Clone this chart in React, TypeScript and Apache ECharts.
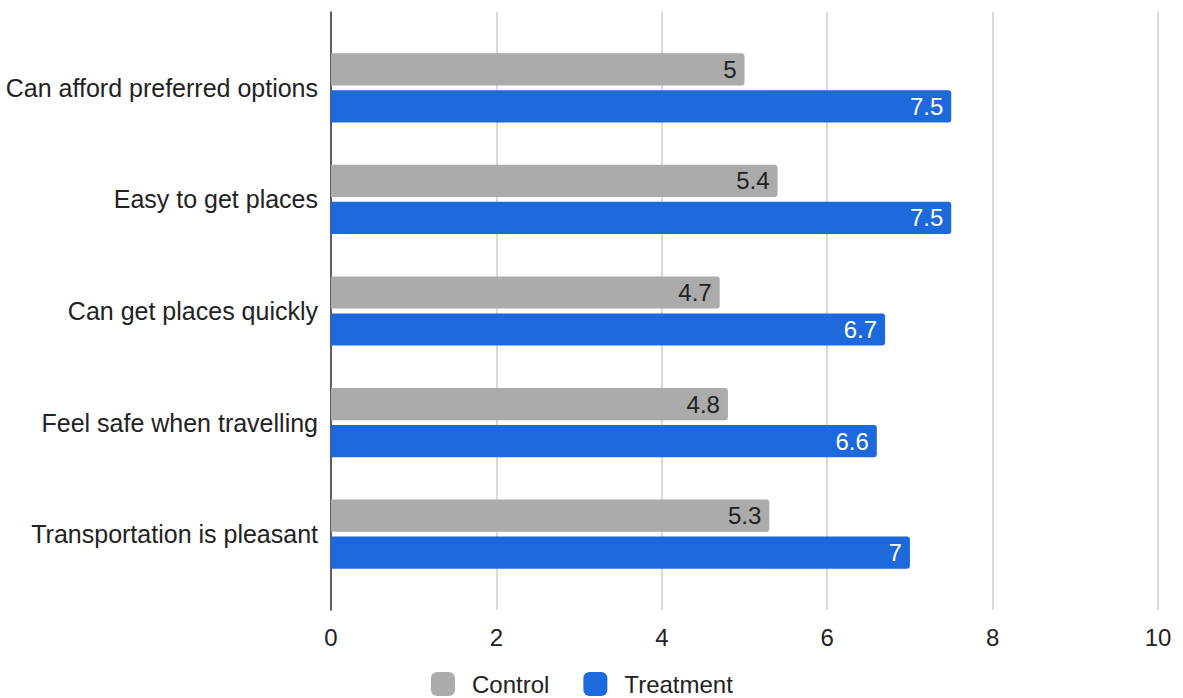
import React, { useEffect, useRef } from "react";
import * as echarts from "echarts";

const categories = [
  "Can afford preferred options",
  "Easy to get places",
  "Can get places quickly",
  "Feel safe when travelling",
  "Transportation is pleasant",
];
const controlValues = [5, 5.4, 4.7, 4.8, 5.3];
const treatmentValues = [7.5, 7.5, 6.7, 6.6, 7];
const seriesNames = ["Control", "Treatment"];
const xTicks = { min: 0, max: 10, interval: 2 };

const GRAY = "#ababab";
const BLUE = "#1c69db";
const FONT = "Liberation Sans, Arial, sans-serif";
const FS = 24;

export default function App() {
  const ref = useRef<HTMLDivElement>(null);

  useEffect(() => {
    document.body.style.margin = "0";
    if (!ref.current) return;
    const chart = echarts.init(ref.current, undefined, { renderer: "svg" });
    chart.setOption({
      animation: false,
      textStyle: { fontFamily: FONT },
      legend: {
        data: seriesNames,
        top: 672,
        left: 431,
        padding: 0,
        itemWidth: 24,
        itemHeight: 24,
        itemGap: 34,
        icon: "roundRect",
        textStyle: {
          fontSize: FS,
          lineHeight: 24,
          color: "#222",
          fontFamily: FONT,
          padding: [0, 0, 0, 12],
        },
      },
      grid: [
        // outer frame: split lines and the vertical axis line
        { left: 331, right: 25, top: 12, bottom: 88 },
        // inner area holding the bars
        { left: 331, right: 25, top: 32, bottom: 108 },
      ],
      xAxis: [
        {
          gridIndex: 0,
          type: "value",
          min: xTicks.min,
          max: xTicks.max,
          interval: xTicks.interval,
          axisLine: { show: false },
          axisTick: { show: false },
          splitLine: { show: true, lineStyle: { color: "#cccccc", width: 1.5 } },
          axisLabel: { fontSize: FS, color: "#222", margin: 15, fontFamily: FONT },
        },
        {
          gridIndex: 1,
          type: "value",
          min: xTicks.min,
          max: xTicks.max,
          show: false,
        },
      ],
      yAxis: [
        {
          gridIndex: 0,
          type: "category",
          data: [""],
          axisLine: { show: true, lineStyle: { color: "#333", width: 1.5 } },
          axisTick: { show: false },
          axisLabel: { show: false },
          splitLine: { show: false },
        },
        {
          gridIndex: 1,
          type: "category",
          data: categories,
          inverse: true,
          axisLine: { show: false },
          axisTick: { show: false },
          axisLabel: { fontSize: 25, color: "#222", margin: 13, fontFamily: FONT },
        },
      ],
      series: [
        {
          name: seriesNames[0],
          type: "bar",
          xAxisIndex: 1,
          yAxisIndex: 1,
          data: controlValues,
          barCategoryGap: "38%",
          barGap: "15%",
          itemStyle: { color: GRAY, borderRadius: [0, 3, 3, 0] },
          label: {
            show: true,
            position: "insideRight",
            distance: 8,
            fontSize: FS,
            color: "#222",
            fontFamily: FONT,
          },
        },
        {
          name: seriesNames[1],
          type: "bar",
          xAxisIndex: 1,
          yAxisIndex: 1,
          data: treatmentValues,
          barCategoryGap: "38%",
          barGap: "15%",
          itemStyle: { color: BLUE, borderRadius: [0, 3, 3, 0] },
          label: {
            show: true,
            position: "insideRight",
            distance: 8,
            fontSize: FS,
            color: "#fff",
            fontFamily: FONT,
          },
        },
      ],
    });
    return () => chart.dispose();
  }, []);

  return <div ref={ref} style={{ width: 1183, height: 698 }} />;
}
